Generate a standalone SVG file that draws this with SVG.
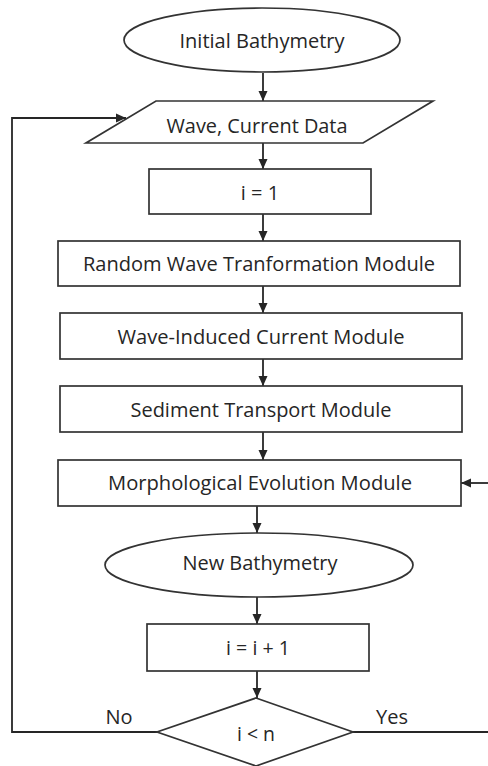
<svg xmlns="http://www.w3.org/2000/svg" width="488" height="766" viewBox="0 0 488 766">
<style>
.s{fill:#fff;stroke:#333;stroke-width:1.7}
.t{font-family:"Open Sans","Liberation Sans",sans-serif;font-size:20px;fill:#262626;text-anchor:middle;dominant-baseline:central}
.c{fill:none;stroke:#262626;stroke-width:1.8}
</style>
<defs>
<marker id="a" viewBox="0 0 10 10" refX="10" refY="5" markerWidth="10" markerHeight="10" markerUnits="userSpaceOnUse" orient="auto">
<path d="M0,0.5 L10,5 L0,9.5 Z" fill="#262626"/>
</marker>
</defs>
<rect width="488" height="766" fill="#fff"/>
<g id="connectors">
<line class="c" x1="263" y1="73" x2="263" y2="101" marker-end="url(#a)"/>
<line class="c" x1="263" y1="143" x2="263" y2="169" marker-end="url(#a)"/>
<line class="c" x1="263" y1="214" x2="263" y2="241" marker-end="url(#a)"/>
<line class="c" x1="263" y1="286" x2="263" y2="313" marker-end="url(#a)"/>
<line class="c" x1="263" y1="359" x2="263" y2="386" marker-end="url(#a)"/>
<line class="c" x1="263" y1="432" x2="263" y2="460" marker-end="url(#a)"/>
<line class="c" x1="257" y1="506" x2="257" y2="533" marker-end="url(#a)"/>
<line class="c" x1="257" y1="597" x2="257" y2="624" marker-end="url(#a)"/>
<line class="c" x1="257" y1="671" x2="257" y2="698" marker-end="url(#a)"/>
<polyline class="c" points="157,732 12,732 12,118 126,118" marker-end="url(#a)"/>
<polyline class="c" points="353,732 492,732"/>
<line class="c" x1="492" y1="483" x2="461" y2="483" marker-end="url(#a)"/>
<text class="t" x="119" y="716">No</text>
<text class="t" x="392" y="716">Yes</text>
</g>
<g id="initial">
<ellipse class="s" cx="262" cy="40" rx="138" ry="32"/>
<text class="t" x="262" y="40" textLength="165" lengthAdjust="spacingAndGlyphs">Initial Bathymetry</text>
</g>
<g id="data">
<polygon class="s" points="156,101 433,101 363,143 86,143"/>
<text class="t" x="257" y="125" textLength="181" lengthAdjust="spacingAndGlyphs">Wave, Current Data</text>
</g>
<g id="init-i">
<rect class="s" x="149" y="169" width="222" height="45"/>
<text class="t" x="260" y="192">i = 1</text>
</g>
<g id="random-wave">
<rect class="s" x="58" y="241" width="402" height="45"/>
<text class="t" x="259" y="263" textLength="352" lengthAdjust="spacingAndGlyphs">Random Wave Tranformation Module</text>
</g>
<g id="wave-current">
<rect class="s" x="60" y="313" width="402" height="46"/>
<text class="t" x="261" y="336" textLength="287" lengthAdjust="spacingAndGlyphs">Wave-Induced Current Module</text>
</g>
<g id="sediment">
<rect class="s" x="60" y="386" width="402" height="46"/>
<text class="t" x="261" y="409" textLength="261" lengthAdjust="spacingAndGlyphs">Sediment Transport Module</text>
</g>
<g id="morph">
<rect class="s" x="58" y="460" width="403" height="46"/>
<text class="t" x="260" y="482" textLength="304" lengthAdjust="spacingAndGlyphs">Morphological Evolution Module</text>
</g>
<g id="new-bathy">
<ellipse class="s" cx="259" cy="565" rx="154" ry="32"/>
<text class="t" x="260" y="562" textLength="155" lengthAdjust="spacingAndGlyphs">New Bathymetry</text>
</g>
<g id="incr">
<rect class="s" x="147" y="624" width="222" height="47"/>
<text class="t" x="258" y="647" textLength="64" lengthAdjust="spacingAndGlyphs">i = i + 1</text>
</g>
<g id="decision">
<polygon class="s" points="256,698 353,732 256,766 157,732"/>
<text class="t" x="256" y="733" textLength="38" lengthAdjust="spacingAndGlyphs">i &lt; n</text>
</g>
</svg>
